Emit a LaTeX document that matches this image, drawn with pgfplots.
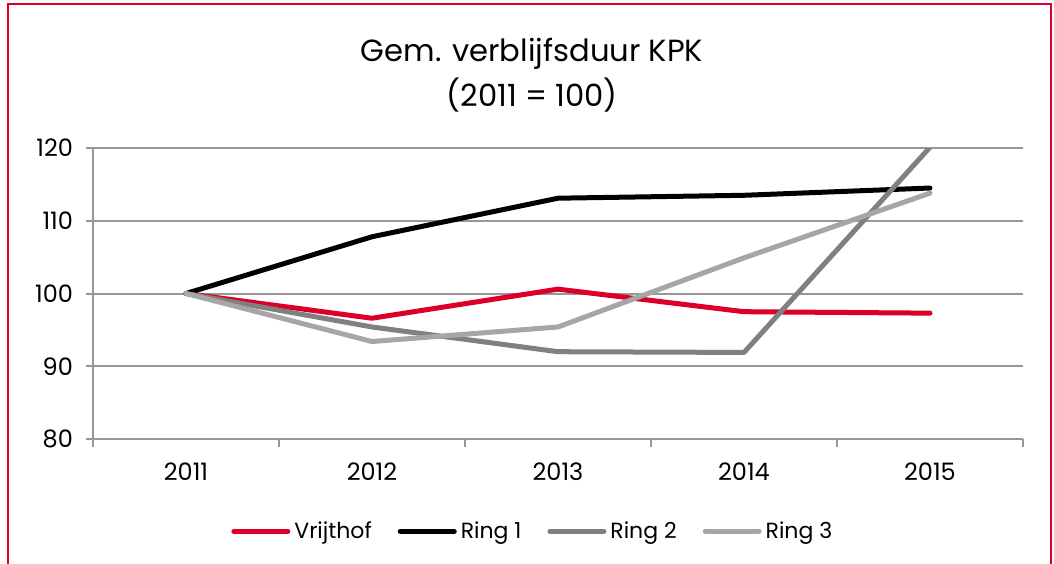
\documentclass[border=0pt]{standalone}
\usepackage{fontspec}
\setmainfont{Poppins}
\usepackage{pgfplots}
\pgfplotsset{compat=1.18}
\definecolor{kred}{HTML}{DC0028}
\definecolor{ktwo}{HTML}{808080}
\definecolor{kthree}{HTML}{A6A6A6}
\definecolor{kgrid}{HTML}{979797}
\begin{document}
\begin{tikzpicture}
\useasboundingbox (0pt,0pt) rectangle (527pt,281.5pt);
\draw[kred, line width=1pt] (4pt,-10pt) -- (4pt,279.5pt) -- (525.5pt,279.5pt) -- (525.5pt,-10pt);
\node[align=center, font=\fontsize{15.3}{22.5}\selectfont, inner sep=0pt] at (266pt,244pt) {Gem. verblijfsduur KPK\\(2011 = 100)};
\begin{axis}[
  at={(46.5pt,62pt)}, anchor=south west,
  scale only axis, width=465pt, height=145.5pt,
  xmin=-0.5, xmax=4.5, ymin=80, ymax=120,
  xtick={0,1,2,3,4}, xticklabels={2011,2012,2013,2014,2015},
  minor xtick={-0.5,0.5,1.5,2.5,3.5,4.5},
  ytick={80,90,100,110,120},
  tick align=outside,
  major tick length=3.5pt, minor tick length=4pt,
  xtick style={draw=none},
  minor x tick style={draw=kgrid, line width=1pt},
  y tick style={draw=kgrid, line width=1pt},
  ymajorgrids, grid style={kgrid, line width=1pt},
  axis x line*=bottom, axis y line*=left,
  axis line style={kgrid, line width=1pt, -},
  ticklabel style={font=\fontsize{12}{14}\selectfont},
  /pgf/number format/assume math mode=true,
  xticklabel style={yshift=-5pt},
  yticklabel style={xshift=-3pt},
  clip=true,
  legend columns=4,
  legend style={draw=none, at={(0.474,-0.317)}, anchor=center, font=\fontsize{11}{13}\selectfont,
    /tikz/every even column/.append style={column sep=11pt}},
  legend image code/.code={\draw[#1, line cap=round] (0pt,0pt) -- (27pt,0pt);},
  every axis plot/.append style={line width=2.5pt, line join=round, line cap=round},
]
\addplot[kred] coordinates {(0,100) (1,96.6) (2,100.6) (3,97.5) (4,97.3)};
\addlegendentry{Vrijthof}
\addplot[black] coordinates {(0,100) (1,107.8) (2,113.1) (3,113.5) (4,114.5)};
\addlegendentry{Ring 1}
\addplot[ktwo] coordinates {(0,100) (1,95.4) (2,92.0) (3,91.9) (4,120.1)};
\addlegendentry{Ring 2}
\addplot[kthree] coordinates {(0,100) (1,93.4) (2,95.4) (3,104.9) (4,113.8)};
\addlegendentry{Ring 3}
\end{axis}
\end{tikzpicture}
\end{document}
